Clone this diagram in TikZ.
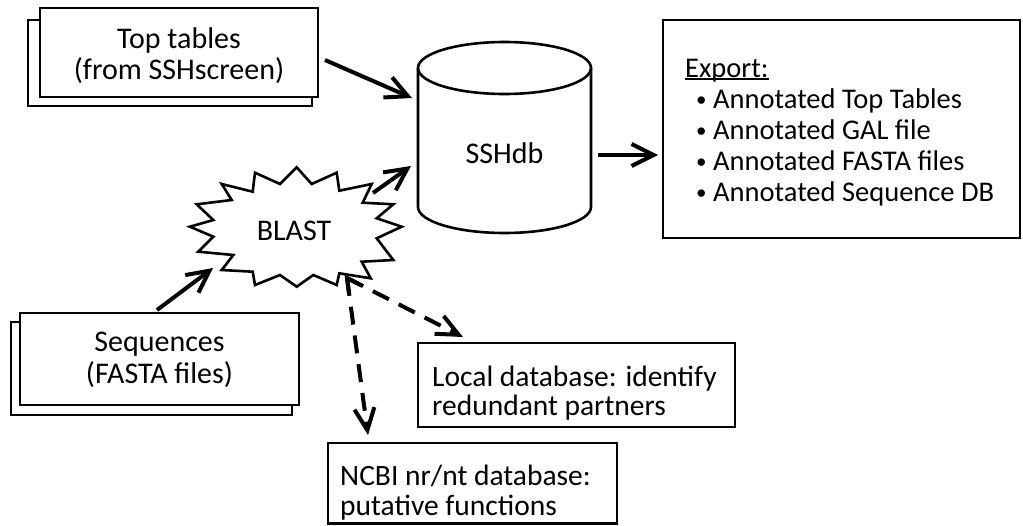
\documentclass[tikz,border=0pt]{standalone}
\usepackage{fontspec}
\setmainfont{Carlito}
\usetikzlibrary{arrows.meta,calc}
\newcommand\myul[1]{\setbox0\hbox{#1}\rlap{\rule[-2.5pt]{\wd0}{1.8pt}}\box0}
\newcommand\mybul{\makebox[28pt][l]{\hspace{11pt}\raisebox{2.5pt}{\fontsize{21}{21}\selectfont •}}}
\begin{document}
\begin{tikzpicture}[x=1pt,y=-1pt,
  boxline/.style={draw, line width=2.6pt, fill=white},
  txt/.style={font=\fontsize{30}{32}\selectfont},
  ltxt/.style={font=\fontsize{29.5}{31}\selectfont, anchor=base west, inner sep=0pt},
  etxt/.style={font=\fontsize{28.5}{31}\selectfont, anchor=base west, inner sep=0pt},
  arr/.style={line width=4pt, -{Straight Barb[length=22pt,width=22pt]}},
  darr/.style={line width=4pt, dash pattern=on 18pt off 11pt, -{Straight Barb[length=22pt,width=20pt]}}]
\useasboundingbox (0,0) rectangle (1023,525);

% Top tables (stacked)
\draw[boxline] (28,20) rectangle (312,106);
\node[boxline, minimum width=278pt, minimum height=89pt] (top) at (179,52.5) {};
\node[txt, anchor=base] (top1) at (179,48) {Top tables};
\node[txt, anchor=base] (top2) at (179,79) {(from SSHscreen)};

% Sequences (stacked)
\draw[boxline] (11,322) rectangle (292,415);
\node[boxline, minimum width=279pt, minimum height=92pt] (seq) at (159.5,359) {};
\node[txt, anchor=base] (seq1) at (159.5,351) {Sequences};
\node[txt, anchor=base] (seq2) at (159.5,383) {(FASTA files)};

% SSHdb cylinder
\draw[line width=2.6pt] (418,68) -- (418,207) arc[start angle=180, end angle=360, x radius=86.5pt, y radius=26pt] -- (591,68);
\draw[line width=2.6pt] (504.5,68) ellipse [x radius=86.5pt, y radius=26pt];
\node[txt, anchor=base] (db) at (504.5,163) {SSHdb};

% Export box
\node[boxline, minimum width=357pt, minimum height=218pt] (export) at (841.5,129) {};
\node[etxt] (ex0) at (685,77) {\myul{Export:}};
\node[etxt] (ex1) at (685,108.5) {\mybul Annotated Top Tables};
\node[etxt] (ex2) at (685,139.5) {\mybul Annotated GAL file};
\node[etxt] (ex3) at (685,170.5) {\mybul Annotated FASTA files};
\node[etxt] (ex4) at (685,201.5) {\mybul Annotated Sequence DB};

% BLAST star
\draw[line width=2.6pt, line join=miter, fill=white]
 (296.7,167.3) -- (311.7,184) -- (336.7,172.7) -- (339.3,190.7) -- (371.7,184) -- (362.7,202.7)
 -- (393.3,204.3) -- (376.7,218.3) -- (401.7,226.7) -- (376.7,238.3) -- (393.3,260) -- (361.7,261.7)
 -- (370.7,278.3) -- (339.3,273.3) -- (336.7,285) -- (313.3,275) -- (296.7,286.7) -- (280,275)
 -- (255,285) -- (252.7,271.7) -- (221.7,270) -- (233.3,255) -- (198.3,251.7) -- (213.3,236.7)
 -- (190,226.7) -- (213.3,220) -- (196.7,204.3) -- (231.7,200) -- (221.7,184) -- (252.7,191.7)
 -- (255,172.7) -- (280,184) -- cycle;
\node[txt, anchor=base] (blast) at (294,240) {BLAST};

% Local database box
\node[boxline, minimum width=317pt, minimum height=84pt] (local) at (576.5,385) {};
\node[ltxt] (loc1) at (432,386) {Local database: identify};
\node[ltxt] (loc2) at (432,415) {redundant partners};

% NCBI box
\node[boxline, minimum width=289pt, minimum height=80.5pt] (ncbi) at (472.5,483.25) {};
\node[ltxt] (nc1) at (340,485) {NCBI nr/nt database:};
\node[ltxt] (nc2) at (340,515) {putative functions};

% connector end points
\coordinate (topS) at (325,60);
\coordinate (topE) at (412,98);
\coordinate (blS) at (373,193);
\coordinate (blE) at (411,166);
\coordinate (sqS) at (157,310);
\coordinate (sqE) at (213,268);
\coordinate (dbS) at (598,155);
\coordinate (dbE) at (658,155);
\coordinate (P) at (347,278);
\coordinate (locE) at (463,337);
\coordinate (ncE) at (368,435);

\draw[arr] (topS) -- (topE);
\draw[arr] (blS) -- (blE);
\draw[arr] (sqS) -- (sqE);
\draw[arr] (dbS) -- (dbE);
\draw[darr] (P) -- (locE);
\draw[darr] (P) -- (ncE);
\draw[line width=4pt, line join=miter, miter limit=10] ($(P)!17pt!(ncE)$) -- (P) -- ($(P)!17pt!(locE)$);
\end{tikzpicture}
\end{document}
